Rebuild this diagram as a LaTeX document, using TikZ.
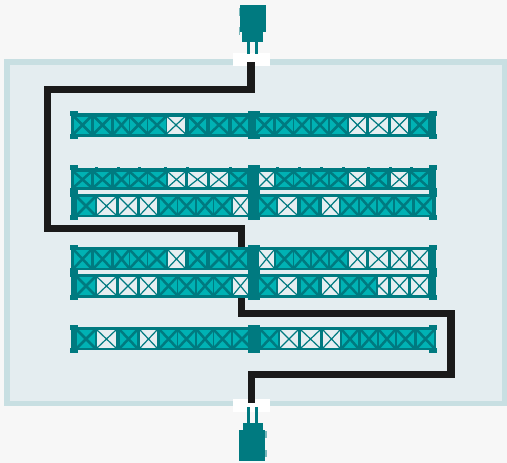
\documentclass[tikz,border=0pt]{standalone}
\usepackage{xcolor}
\definecolor{trussTeal}{HTML}{007A80}
\definecolor{cellDark}{HTML}{00B2B4}
\definecolor{cellOpen}{HTML}{E6EEF1}
\definecolor{panelFill}{HTML}{E4EDF0}
\definecolor{panelEdge}{HTML}{C8DFE2}
\definecolor{pageGrey}{HTML}{F7F7F7}
\definecolor{wireBlack}{HTML}{1A1A1A}
\newcommand{\cells}[3]{%
  \foreach \a/\b/\s in {#3} {
    \path[cell\s] (\a,#1) rectangle (\b,#2);
    \begin{scope}
      \clip (\a,#1) rectangle (\b,#2);
      \draw[cross\s] (\a,#1) -- (\b,#2) (\a,#2) -- (\b,#1);
    \end{scope}
  }}
\newcommand{\band}[2]{\fill[teal fill] (71,#1) rectangle (436,#2);}
\newcommand{\posts}[2]{%
  \fill[teal fill] (248,#1) rectangle (259.5,#2);
  \foreach \x/\w in {70/78,429/437} {
    \fill[teal fill] (\x,#1) rectangle (\w,#1+5);
    \fill[teal fill] (\x,#2-5) rectangle (\w,#2);
  }}
\begin{document}
\begin{tikzpicture}[x=1pt,y=-1pt,
  teal fill/.style={fill=trussTeal},
  cellD/.style={fill=cellDark}, crossD/.style={draw=trussTeal, line width=2.5pt},
  cellW/.style={fill=cellOpen}, crossW/.style={draw=trussTeal, line width=1.2pt},
  wire/.style={draw=wireBlack, line width=7.5pt, line join=miter},
  halo/.style={fill=trussTeal, opacity=0.5}]
  \useasboundingbox (0,0) rectangle (507,463);
  \fill[pageGrey] (0,0) rectangle (507,463);
  % panel and the two white ports
  \draw[fill=panelFill, draw=panelEdge, line width=5.5pt] (7,62) rectangle (504.5,403.5);
  \fill[white] (233,53) rectangle (270,66);
  \fill[white] (233,399) rectangle (270,412);
  % wire, passes behind rows 4 and 5
  \coordinate (portTop) at (251,62);
  \coordinate (portBot) at (251.5,403);
  \coordinate (rowIn) at (241.5,250);
  \coordinate (rowOut) at (241.5,295);
  \draw[wire] (portTop) |- (47.5,89.5) |- (241.5,228.5) -- (rowIn);
  \draw[wire] (rowOut) |- (451,313.5) |- (251.5,374.5) -- (portBot);
  % row 1
  \band{113}{137}
  \posts{111}{139}
  \cells{116.5}{133.5}{74/91/D,94/111/D,114/129/D,130/147/D,148/166/D,167/185/W,189/206/D,210/228/D,232/248/D,
    256/273/D,276/293/D,294/310/D,312/328/D,330/347/D,349/366/W,369/388/W,391/408/W,411/428/D}
  % rows 2 and 3
  \band{168}{190}
  \band{194}{217}
  \foreach \x in {95,117,138,164,186,229,276,298,320,342,367,389,410} {\fill[teal fill] (\x,166.5) rectangle (\x+2.5,168);}
  \posts{165}{220}
  \fill[teal fill] (70,188) rectangle (78,197);
  \fill[teal fill] (429,188) rectangle (437,197);
  \cells{172}{187}{74/91/D,94/111/D,114/129/D,130/147/D,148/166/D,168/185/W,188/207/W,210/228/W,230/247/D,
    259/274/W,276/293/D,294/310/D,312/328/D,330/347/D,349/366/W,370/387/D,391/408/W,411/428/D}
  \cells{197}{215}{77/95/D,97/116/W,119/137/W,140/157/W,160/177/D,178/195/D,197/213/D,214/231/D,233/248/W,
    259/276/D,278/297/W,301/318/D,322/339/W,341/358/D,360/376/D,378/393/D,395/412/D,415/432/D}
  % rows 4 and 5
  \band{247}{270}
  \band{274}{298}
  \posts{245}{300}
  \fill[teal fill] (70,268) rectangle (78,277);
  \fill[teal fill] (429,268) rectangle (437,277);
  \cells{250}{268}{74/91/D,94/111/D,114/129/D,130/147/D,148/166/D,168/185/W,189/206/D,210/228/D,230/247/D,
    259/274/W,276/293/D,294/310/D,312/328/D,330/347/D,349/366/W,369/388/W,391/408/W,411/428/W}
  \cells{277}{295}{77/95/D,97/116/W,119/137/W,140/157/W,160/177/D,178/195/D,197/213/D,214/231/D,233/248/W,
    259/276/D,278/297/W,301/318/D,322/339/W,341/358/D,360/376/D,391/408/W,411/428/W}
  % cut cell in row 5
  \path[cellW] (378,277) rectangle (388,295);
  \begin{scope}
    \clip (378,277) rectangle (388,295);
    \draw[crossW] (370,295) -- (388,277) (370,277) -- (388,295);
  \end{scope}
  % row 6
  \band{327}{350}
  \posts{325}{353}
  \cells{330}{348}{77/95/D,97/116/W,120/137/D,140/157/W,160/177/D,178/195/D,197/213/D,214/231/D,233/251/D,
    261/278/D,280/298/W,301/320/W,323/340/W,342/358/D,361/377/D,379/395/D,397/414/D,417/434/D}
  \fill[teal fill] (248,325) rectangle (260,353);
  % top plug
  \foreach \x in {247,255} {\fill[teal fill] (\x,42) rectangle (\x+3,54);}
  \fill[teal fill] (242,30) rectangle (263,42);
  \fill[teal fill] (240,5) rectangle (265.5,32);
  \foreach \y in {8,27} {\path[halo] (238.5,\y) rectangle (240,\y+8);}
  % bottom plug
  \foreach \x in {247,255} {\fill[teal fill] (\x,407) rectangle (\x+3,424);}
  \fill[teal fill] (243,423) rectangle (263,431);
  \fill[teal fill] (239,430) rectangle (265,461);
  \foreach \y in {431,450} {\path[halo] (265,\y) rectangle (266.5,\y+7);}
\end{tikzpicture}
\end{document}
